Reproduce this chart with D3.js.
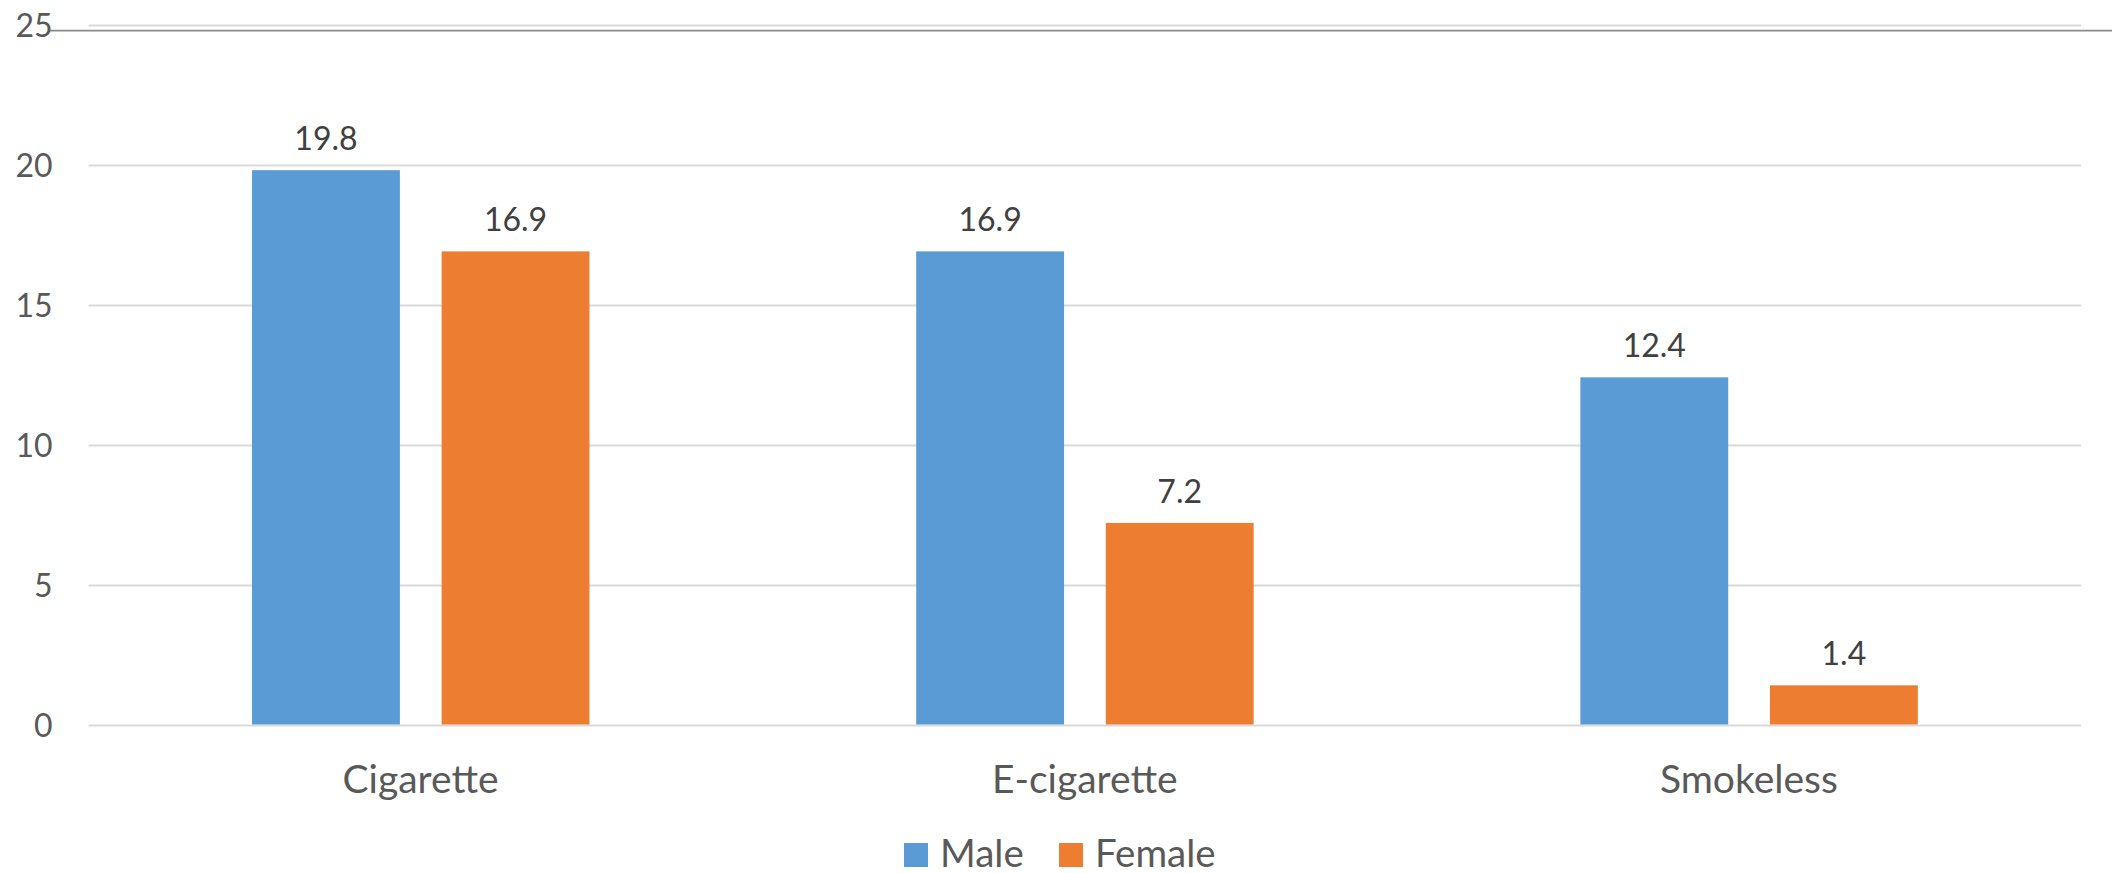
<!DOCTYPE html>
<html>
<head>
<meta charset="utf-8">
<script src="https://cdn.jsdelivr.net/npm/d3@7"></script>
<style>
  html, body { margin: 0; padding: 0; background: #fff; }
  svg { display: block; }
  text { font-family: Lato, "Open Sans", sans-serif; }
</style>
</head>
<body>
<svg id="chart" width="2112" height="873"></svg>
<script>
const categories = ["Cigarette", "E-cigarette", "Smokeless"];
const seriesNames = ["Male", "Female"];
const maleValues = [19.8, 16.9, 12.4];
const femaleValues = [16.9, 7.2, 1.4];
const yTicks = [0, 5, 10, 15, 20, 25];
const colors = ["#5B9BD5", "#ED7D31"];

const seriesValues = [maleValues, femaleValues];
const data = categories.map((c, i) => ({
  category: c,
  values: seriesNames.map((s, j) => ({ series: s, value: seriesValues[j][i], color: colors[j] }))
}));

const svg = d3.select("#chart");
const plotLeft = 88.5, plotRight = 2081, plotTop = 24.6, plotBottom = 724.5;

const y = d3.scaleLinear().domain([0, 25]).range([plotBottom, plotTop]);
const x0 = d3.scaleBand().domain(categories).range([plotLeft, plotRight]).padding(0);
const groupW = x0.bandwidth();
const x1 = d3.scaleBand().domain(seriesNames)
  .range([groupW * 0.2462, groupW * 0.7543]).paddingInner(0.22).paddingOuter(0);

// gridlines
svg.append("g").selectAll("line").data(yTicks).join("line")
  .attr("x1", plotLeft).attr("x2", plotRight)
  .attr("y1", d => Math.round(y(d)) + 0.5).attr("y2", d => Math.round(y(d)) + 0.5)
  .attr("stroke", "#D9D9D9").attr("stroke-width", 2);

// extra dark rule near top
svg.append("line")
  .attr("x1", 48).attr("x2", 2112)
  .attr("y1", y(25) + 6).attr("y2", y(25) + 6)
  .attr("stroke", "#8a8a8a").attr("stroke-width", 1.6);

// y tick labels
svg.append("g").selectAll("text").data(yTicks).join("text")
  .attr("x", 52.5).attr("y", d => y(d))
  .attr("text-anchor", "end").attr("dominant-baseline", "central")
  .attr("font-size", 32).attr("fill", "#595959")
  .text(d => d);

// bars
const groups = svg.append("g").selectAll("g").data(data).join("g")
  .attr("transform", d => `translate(${x0(d.category)},0)`);

groups.selectAll("rect").data(d => d.values).join("rect")
  .attr("x", d => x1(d.series))
  .attr("width", x1.bandwidth())
  .attr("y", d => y(d.value))
  .attr("height", d => y(0) - y(d.value))
  .attr("fill", d => d.color);

groups.selectAll("text.val").data(d => d.values).join("text")
  .attr("class", "val")
  .attr("x", d => x1(d.series) + x1.bandwidth() / 2)
  .attr("y", d => y(d.value) - 20)
  .attr("text-anchor", "middle")
  .attr("font-size", 32).attr("fill", "#404040")
  .text(d => d.value.toFixed(1));

// category labels
svg.append("g").selectAll("text").data(categories).join("text")
  .attr("x", d => x0(d) + groupW / 2)
  .attr("y", 793)
  .attr("text-anchor", "middle")
  .attr("font-size", 39).attr("fill", "#595959")
  .text(d => d);

// legend
const legendX = [904, 1059];
const legend = svg.append("g").selectAll("g").data(seriesNames).join("g")
  .attr("transform", (d, i) => `translate(${legendX[i]},843)`);
legend.append("rect").attr("width", 24).attr("height", 24)
  .attr("fill", (d, i) => colors[i]);
legend.append("text").attr("x", 36).attr("y", 23.5)
  .attr("font-size", 38.5).attr("fill", "#595959")
  .text(d => d);
</script>
</body>
</html>
